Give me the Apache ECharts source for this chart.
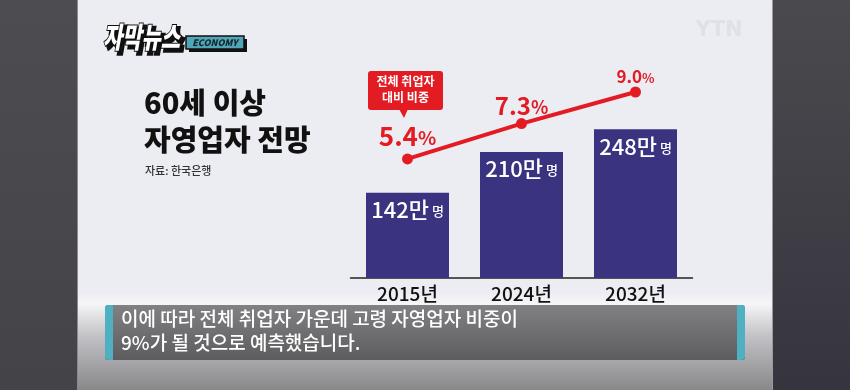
<!DOCTYPE html>
<html>
<head>
<meta charset="utf-8">
<script src="https://cdn.jsdelivr.net/npm/echarts@6/dist/echarts.min.js"></script>
<style>
html,body{margin:0;padding:0;background:#ececf3;}
#c{width:850px;height:390px;}
</style>
</head>
<body>
<div id="c"></div>
<script>
const categories = ['2015년', '2024년', '2032년'];
const workers = [142, 210, 248];      // 60세 이상 자영업자 (만 명)
const share = [5.4, 7.3, 9.0];         // 전체 취업자 대비 비중 (%)

const FONT = '"Noto Sans CJK KR", "Noto Sans", sans-serif';
const RED = '#e31c24';
const BAR = '#3a3380';

const lineLabelSizes = [[26, 19], [24, 18], [17, 13]];
const lineLabelDist = [4, 0, 1];

const chart = echarts.init(document.getElementById('c'));

const lineData = share.map((v, i) => ({
  value: v,
  label: {
    distance: lineLabelDist[i],
    rich: {
      a: { fontSize: lineLabelSizes[i][0], fontWeight: 700, color: RED, fontFamily: FONT, lineHeight: lineLabelSizes[i][0] },
      b: { fontSize: lineLabelSizes[i][1], fontWeight: 700, color: RED, fontFamily: FONT, lineHeight: lineLabelSizes[i][0], padding: [2, 0, 0, 0] }
    }
  }
}));

const option = {
  animation: false,
  backgroundColor: '#ececf3',
  grid: { left: 350.5, right: 157.5, top: 92, bottom: 112 },
  xAxis: {
    type: 'category',
    data: categories,
    boundaryGap: true,
    axisTick: { show: false },
    axisLine: { lineStyle: { color: '#222', width: 1.5 } },
    axisLabel: { fontSize: 19, color: '#111', fontFamily: FONT, fontWeight: 500, margin: 6 }
  },
  yAxis: [
    { type: 'value', min: 0, max: 310, show: false },
    { type: 'value', min: -1, max: 9, show: false }
  ],
  series: [
    {
      type: 'bar',
      data: workers,
      yAxisIndex: 0,
      barWidth: 83,
      itemStyle: { color: BAR },
      z: 2,
      label: {
        show: true,
        position: 'insideTop',
        distance: 5,
        formatter: p => '{a|' + p.value + '만}{b| 명}',
        rich: {
          a: { fontSize: 22, color: '#fff', fontFamily: FONT, fontWeight: 500, lineHeight: 24 },
          b: { fontSize: 13, color: '#fff', fontFamily: FONT, fontWeight: 500, lineHeight: 24, padding: [3, 0, 0, 0] }
        }
      }
    },
    {
      type: 'line',
      data: lineData,
      yAxisIndex: 1,
      symbol: 'circle',
      symbolSize: 11,
      lineStyle: { color: RED, width: 4 },
      itemStyle: { color: RED },
      z: 5,
      label: {
        show: true,
        position: 'top',
        formatter: p => '{a|' + p.value.toFixed(1) + '}{b|%}'
      }
    }
  ],
  graphic: [
    // side panels
    { type: 'rect', shape: { x: 0, y: 0, width: 78, height: 390 }, z: -10,
      style: { fill: new echarts.graphic.LinearGradient(0, 0, 0, 1, [{ offset: 0, color: '#4d4d51' }, { offset: 1, color: '#444448' }]) } },
    { type: 'rect', shape: { x: 773, y: 0, width: 77, height: 390 }, z: -10,
      style: { fill: new echarts.graphic.LinearGradient(0, 0, 0, 1, [{ offset: 0, color: '#4a4a4e' }, { offset: 1, color: '#36353f' }]) } },
    { type: 'rect', shape: { x: 77, y: 0, width: 1, height: 390 }, z: -9, style: { fill: '#8a8a90' } },
    { type: 'rect', shape: { x: 772, y: 0, width: 1, height: 390 }, z: -9, style: { fill: '#9a9aa0' } },
    // bottom fade
    { type: 'rect', shape: { x: 78, y: 292, width: 694, height: 98 }, z: -10,
      style: { fill: new echarts.graphic.LinearGradient(0, 0, 0, 1, [
        { offset: 0, color: '#ececf3' }, { offset: 0.12, color: '#f6f6f8' },
        { offset: 0.45, color: '#c2c2c6' }, { offset: 1, color: '#88888b' }]) } },
    // logo
    { type: 'rect', shape: { x: 189, y: 39, width: 58, height: 13 }, z: 10, style: { fill: '#111' } },
    { type: 'rect', shape: { x: 186, y: 36, width: 58, height: 13 }, z: 11, style: { fill: '#4ea6b6', stroke: '#111', lineWidth: 1.5 } },
    { type: 'text', x: 215, y: 42.5, z: 12,
      style: { text: 'ECONOMY', fill: '#15252b', font: 'italic 900 9px ' + FONT, align: 'center', verticalAlign: 'middle' } },
    { type: 'text', x: 106, y: 40, scaleX: 0.72, z: 13,
      style: { text: '자막뉴스', fill: '#111', font: 'italic 900 29px ' + FONT, verticalAlign: 'middle', stroke: '#111', lineWidth: 4 } },
    { type: 'text', x: 103, y: 37, scaleX: 0.72, z: 14,
      style: { text: '자막뉴스', fill: '#fff', font: 'italic 900 29px ' + FONT, verticalAlign: 'middle', stroke: '#111', lineWidth: 2 } },
    // watermark
    { type: 'text', x: 719, y: 31, z: 1,
      style: { text: 'YTN', fill: '#e0e0e6', font: '900 21px "DejaVu Sans", sans-serif', align: 'center', verticalAlign: 'middle' } },
    // title
    { type: 'text', x: 144, y: 103, z: 5,
      style: { text: '60세 이상', fill: '#111', font: '900 29px ' + FONT, verticalAlign: 'middle' } },
    { type: 'text', x: 144, y: 140, z: 5,
      style: { text: '자영업자 전망', fill: '#111', font: '900 29px ' + FONT, verticalAlign: 'middle' } },
    { type: 'text', x: 145, y: 171, z: 5,
      style: { text: '자료: 한국은행', fill: '#333', font: '500 11px ' + FONT, verticalAlign: 'middle' } },
    // callout
    { type: 'rect', shape: { x: 368, y: 71, width: 75, height: 39, r: 3 }, z: 6, style: { fill: RED } },
    { type: 'polygon', shape: { points: [[399, 109], [408, 109], [404, 118]] }, z: 6, style: { fill: RED } },
    { type: 'text', x: 405.5, y: 81, z: 7,
      style: { text: '전체 취업자', fill: '#fff', font: '700 12px ' + FONT, align: 'center', verticalAlign: 'middle' } },
    { type: 'text', x: 405.5, y: 97, z: 7,
      style: { text: '대비 비중', fill: '#fff', font: '700 12px ' + FONT, align: 'center', verticalAlign: 'middle' } },
    // subtitle box
    { type: 'rect', shape: { x: 105, y: 305, width: 640, height: 55, r: 3 }, z: 50,
      style: { fill: new echarts.graphic.LinearGradient(0, 0, 0, 1, [{ offset: 0, color: '#7b7b7d' }, { offset: 1, color: '#59595b' }]), opacity: 0.95 } },
    { type: 'rect', shape: { x: 105, y: 305, width: 8, height: 55, r: [4, 0, 0, 4] }, z: 51, style: { fill: '#4fb0c2' } },
    { type: 'rect', shape: { x: 737, y: 305, width: 8, height: 55, r: [0, 4, 4, 0] }, z: 51, style: { fill: '#4fb0c2' } },
    { type: 'text', x: 121, y: 319, z: 52,
      style: { text: '이에 따라 전체 취업자 가운데 고령 자영업자 비중이', fill: '#fff', font: '500 19px ' + FONT, verticalAlign: 'middle' } },
    { type: 'text', x: 121, y: 343, z: 52,
      style: { text: '9%가 될 것으로 예측했습니다.', fill: '#fff', font: '500 19px ' + FONT, verticalAlign: 'middle' } }
  ]
};
chart.setOption(option);
</script>
</body>
</html>
